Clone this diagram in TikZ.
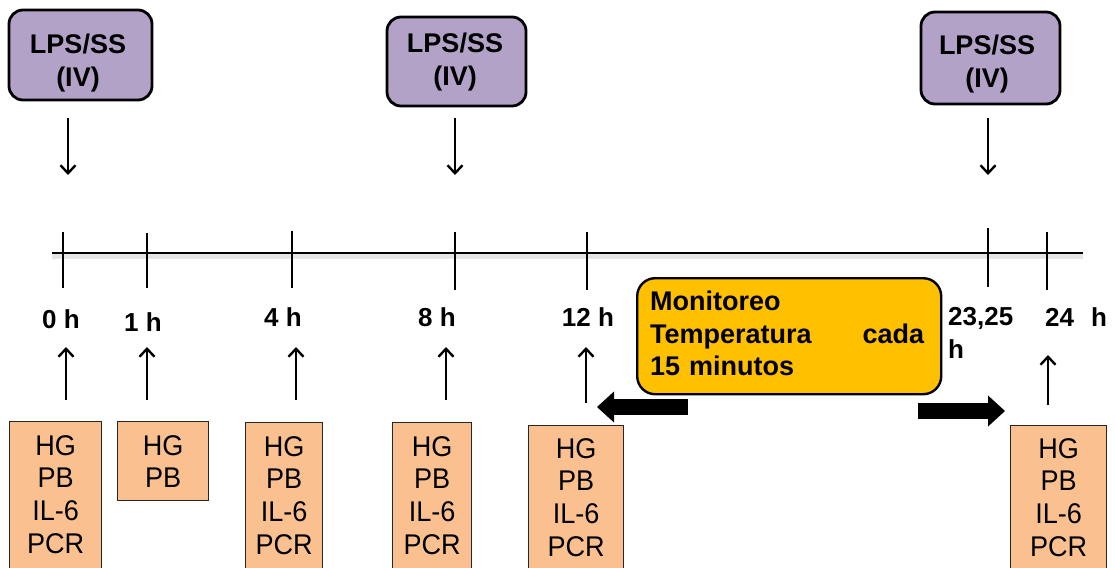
\documentclass[tikz,border=0pt]{standalone}
\usepackage{fontspec}
\setmainfont{Liberation Sans}
\newfontfamily\regfont[FakeStretch=0.95]{Liberation Sans}
\usetikzlibrary{arrows.meta}
\definecolor{lpspurple}{HTML}{B3A2C7}
\definecolor{sampleorange}{HTML}{FAC090}
\definecolor{monyellow}{HTML}{FFC000}
\begin{document}
\begin{tikzpicture}[x=1pt,y=-1pt,
  lpsbox/.style={draw=black, line width=2.8pt, rounded corners=14pt, fill=lpspurple, inner sep=0pt},
  lpstext/.style={font=\bfseries\fontsize{27}{33}\selectfont, align=center, inner sep=0pt},
  thinarrow/.style={line width=2.4pt, -{Straight Barb[length=8pt,width=15pt]}},
  ticklinestyle/.style={line width=2.4pt},
  hlabel/.style={font=\bfseries\fontsize{26}{33}\selectfont, inner sep=0pt},
  samplebox/.style={draw=black!85, line width=1.2pt, fill=sampleorange, inner sep=0pt},
  sampletext/.style={font=\regfont\fontsize{28.5}{32.8}\selectfont, align=center, inner sep=0pt},
  monbox/.style={draw=black, line width=2.4pt, rounded corners=18pt, fill=monyellow, inner sep=0pt},
  montext/.style={font=\bfseries\fontsize{27}{32.5}\selectfont, align=left, inner sep=0pt},
  blockarrow/.style={line width=16pt, -{Triangle[length=17pt,width=31pt,line width=0pt]}}
]
\useasboundingbox (0,0) rectangle (1115,567);
\fill[white] (0,0) rectangle (1115,567);

% top boxes
\node[lpsbox, minimum width=143pt, minimum height=90pt] (L1) at (80.5,55) {};
\node[lpstext, anchor=north] (L1t) at (78,34) {LPS/SS\\(IV)};
\node[lpsbox, minimum width=139pt, minimum height=89pt] (L2) at (456.5,61.5) {};
\node[lpstext, anchor=north] (L2t) at (455,33) {LPS/SS\\(IV)};
\node[lpsbox, minimum width=139pt, minimum height=92pt] (L3) at (990.5,58) {};
\node[lpstext, anchor=north] (L3t) at (987,35) {LPS/SS\\(IV)};

% down arrows
\coordinate (d1s) at (68,118);  \coordinate (d1e) at (68,175);
\coordinate (d2s) at (455,118); \coordinate (d2e) at (455,175);
\coordinate (d3s) at (988,118); \coordinate (d3e) at (988,175);
\draw[thinarrow] (d1s) -- (d1e);
\draw[thinarrow] (d2s) -- (d2e);
\draw[thinarrow] (d3s) -- (d3e);

% timeline
\coordinate (tl0) at (52,253); \coordinate (tl1) at (1083,253);
\draw[line width=5pt, black!10] ([yshift=-3pt]tl0) -- ([yshift=-3pt]tl1);
\draw[line width=2.8pt] (tl0) -- (tl1);
\foreach \n/\x/\a/\b in {0/63/232/288, 1/147/233/288, 4/292/231/288, 8/455/232/290,
  12/587/232/290, 23/988/228/287, 24/1047/232/290} {
  \coordinate (ta\n) at (\x,\a); \coordinate (tb\n) at (\x,\b);
  \draw[ticklinestyle] (ta\n) -- (tb\n);
}

% hour labels
\node[hlabel, anchor=base] (h0) at (61,328) {0 h};
\node[hlabel, anchor=base] (h1) at (143,331) {1 h};
\node[hlabel, anchor=base] (h4) at (283,326) {4 h};
\node[hlabel, anchor=base] (h8) at (437,326) {8 h};
\node[hlabel, anchor=base] (h12) at (588,326) {12 h};
\node[hlabel, anchor=north west, align=left] (h23) at (948,307) {23,25\\h};
\node[hlabel, anchor=base west] (h24) at (1045,326) {24\hspace{17pt}h};

% up arrows
\foreach \n/\x/\a/\b in {0/66/400/347, 1/147/400/347, 4/296/400/347, 8/446/400/347,
  12/586/403/347, 24/1048/405/355} {
  \coordinate (ua\n) at (\x,\a); \coordinate (ub\n) at (\x,\b);
  \draw[thinarrow] (ua\n) -- (ub\n);
}

% sample boxes
\begin{scope}
\clip (0,0) rectangle (1115,567);
\node[samplebox, minimum width=92pt, minimum height=200pt, anchor=north west] (bA) at (9,421) {};
\node[sampletext, anchor=north] (sA) at (bA.north |- 0,435) {HG\\PB\\IL-6\\PCR};
\node[samplebox, minimum width=91pt, minimum height=79pt, anchor=north west] (bB) at (117,421) {};
\node[sampletext, anchor=north] (sB) at (bB.north |- 0,435) {HG\\PB};
\node[samplebox, minimum width=77pt, minimum height=200pt, anchor=north west] (bC) at (245,422) {};
\node[sampletext, anchor=north] (sC) at (bC.north |- 0,436) {HG\\PB\\IL-6\\PCR};
\node[samplebox, minimum width=79pt, minimum height=200pt, anchor=north west] (bD) at (392,422) {};
\node[sampletext, anchor=north] (sD) at (bD.north |- 0,436) {HG\\PB\\IL-6\\PCR};
\node[samplebox, minimum width=95pt, minimum height=200pt, anchor=north west] (bE) at (528,425) {};
\node[sampletext, anchor=north] (sE) at (bE.north |- 0,438) {HG\\PB\\IL-6\\PCR};
\node[samplebox, minimum width=96pt, minimum height=200pt, anchor=north west] (bF) at (1010,425) {};
\node[sampletext, anchor=north] (sF) at (bF.north |- 0,438) {HG\\PB\\IL-6\\PCR};
\end{scope}

% monitoring box
\node[monbox, minimum width=304pt, minimum height=116pt, anchor=north west] (mon) at (636,277) {};
\node[montext, anchor=north west, text width=274pt] (mont) at (650,291) {Monitoreo\\Temperatura\hfill cada\\15 minutos};

% block arrows
\coordinate (la0) at (688,407); \coordinate (la1) at (597,407);
\coordinate (ra0) at (918,411); \coordinate (ra1) at (1005,411);
\draw[blockarrow] (la0) -- (la1);
\draw[blockarrow] (ra0) -- (ra1);
\end{tikzpicture}
\end{document}
